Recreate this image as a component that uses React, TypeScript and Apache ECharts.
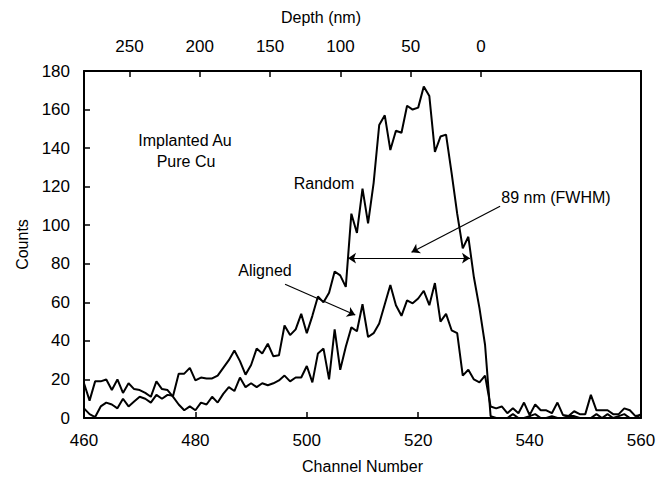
import React, { useEffect, useRef } from "react";
import * as echarts from "echarts";

const CHANNEL_START = 460;

// Counts per channel, 460 … 560
const randomCounts = [
  5, 2, 0.5, 6, 8, 7, 5, 10, 6, 8.5,
  11, 10, 8, 12, 10, 12, 11.5, 23, 23, 26,
  19.5, 21, 20.5, 20.5, 22, 26, 30, 35, 29.5, 22.5,
  27.5, 36, 33.5, 38.5, 32, 32.5, 48, 43, 46, 54,
  44, 53, 63, 60, 65, 76, 74, 68, 106, 96,
  119, 101, 122, 152, 157, 139, 149, 148, 162, 160,
  161, 172, 167, 138, 146, 147, 127, 106, 88, 94,
  73, 57, 38, 1, 0, 0, 0, 2, 0, 0,
  1, 2, 0, 0, 1, 0, 0, 1, 1, 0,
  0, 0, 2, 0, 2, 0, 1, 2, 0, 0,
  2,
];

const alignedCounts = [
  18, 9, 19, 19, 20, 14.5, 20, 13, 18, 15,
  14.5, 13, 11, 19, 15, 14.5, 11, 7, 4, 6,
  4, 8, 7, 11, 8, 12.5, 16, 14, 21, 16,
  18, 16, 18, 17, 18, 19.5, 22, 19, 21, 21,
  27, 18.5, 33.5, 36, 20, 46, 25, 37, 47, 45,
  59, 42, 44, 49, 59, 69, 58.5, 53, 61, 59.5,
  62, 66, 58.5, 70, 50, 54, 45.5, 44, 22, 25,
  20, 18.5, 22, 6, 5, 6, 2.5, 5, 2.5, 8,
  1.5, 7, 4, 4, 2.5, 8, 1.5, 1, 3.5, 2,
  2, 12, 4, 4, 4, 2, 2, 5, 4, 1,
  1.5,
];

const depthTicks = [0, 50, 100, 150, 200, 250];
const DEPTH_AT_LEFT = 282.3; // nm at channel 460
const DEPTH_AT_RIGHT = -113.7; // nm at channel 560

const FWHM_LEVEL = 82.9;
const FWHM_FROM = 507.4;
const FWHM_TO = 529.3;

const FONT = "'Liberation Sans', Arial, sans-serif";

export default function App() {
  const ref = useRef<HTMLDivElement>(null);

  useEffect(() => {
    if (!ref.current) return;
    const chart = echarts.init(ref.current, undefined, { renderer: "svg" });

    const toPairs = (arr: number[]) => arr.map((v, i) => [CHANNEL_START + i, v]);

    const axisLine = { show: true, onZero: false, lineStyle: { color: "#000", width: 2 } };
    const tickStyle = { color: "#000", width: 1.5 };

    chart.setOption({
      animation: false,
      backgroundColor: "#fff",
      grid: { left: 84, right: 26, top: 71, bottom: 62 },
      xAxis: [
        {
          type: "value",
          min: 460,
          max: 560,
          interval: 20,
          position: "bottom",
          axisLine,
          axisTick: { show: true, inside: true, length: 6, lineStyle: tickStyle },
          axisLabel: { fontSize: 17, color: "#000", fontFamily: FONT, margin: 14 },
          splitLine: { show: false },
          name: "Channel Number",
          nameLocation: "middle",
          nameGap: 40,
          nameTextStyle: { fontSize: 16, color: "#000", fontFamily: FONT },
        },
        {
          type: "value",
          min: DEPTH_AT_RIGHT,
          max: DEPTH_AT_LEFT,
          inverse: true,
          position: "top",
          axisLine,
          axisTick: {
            show: true,
            inside: true,
            length: 6,
            lineStyle: tickStyle,
            customValues: depthTicks,
          },
          axisLabel: {
            fontSize: 17,
            color: "#000",
            fontFamily: FONT,
            margin: 16,
            customValues: depthTicks,
          },
          splitLine: { show: false },
        },
      ],
      yAxis: [
        {
          type: "value",
          min: 0,
          max: 180,
          interval: 20,
          position: "left",
          axisLine,
          axisTick: { show: true, inside: true, length: 6, lineStyle: tickStyle },
          axisLabel: { fontSize: 17, color: "#000", fontFamily: FONT, margin: 14 },
          splitLine: { show: false },
          name: "Counts",
          nameLocation: "middle",
          nameGap: 51,
          nameRotate: 90,
          nameTextStyle: { fontSize: 16, color: "#000", fontFamily: FONT },
        },
        {
          type: "value",
          min: 0,
          max: 180,
          position: "right",
          axisLine,
          axisTick: { show: false },
          axisLabel: { show: false },
          splitLine: { show: false },
        },
      ],
      series: [
        {
          name: "Random",
          type: "line",
          xAxisIndex: 0,
          yAxisIndex: 0,
          data: toPairs(randomCounts),
          showSymbol: false,
          symbol: "none",
          lineStyle: { color: "#000", width: 2 },
          markLine: {
            silent: true,
            symbolSize: 8,
            label: { show: false },
            lineStyle: { color: "#000", width: 1.2, type: "solid" },
            data: [
              [
                { coord: [FWHM_FROM, FWHM_LEVEL], symbol: "arrow" },
                { coord: [FWHM_TO, FWHM_LEVEL], symbol: "arrow" },
              ],
              [
                { coord: [534.7, 109.8], symbol: "none" },
                { coord: [518.8, 86], symbol: "arrow" },
              ],
              [
                { coord: [496.1, 69.4], symbol: "none" },
                { coord: [508.7, 53.4], symbol: "arrow" },
              ],
            ],
          },
        },
        {
          name: "Aligned",
          type: "line",
          xAxisIndex: 0,
          yAxisIndex: 0,
          data: toPairs(alignedCounts),
          showSymbol: false,
          symbol: "none",
          lineStyle: { color: "#000", width: 2 },
        },
      ],
      graphic: [
        { type: "text", x: 321, y: 17, style: { text: "Depth (nm)", font: `16px ${FONT}`, fill: "#000", align: "center", verticalAlign: "middle" } },
        { type: "text", x: 185, y: 140, style: { text: "Implanted Au", font: `16px ${FONT}`, fill: "#000", align: "center", verticalAlign: "middle" } },
        { type: "text", x: 186, y: 161, style: { text: "Pure Cu", font: `16px ${FONT}`, fill: "#000", align: "center", verticalAlign: "middle" } },
        { type: "text", x: 324, y: 183, style: { text: "Random", font: `16px ${FONT}`, fill: "#000", align: "center", verticalAlign: "middle" } },
        { type: "text", x: 556, y: 197, style: { text: "89 nm (FWHM)", font: `16px ${FONT}`, fill: "#000", align: "center", verticalAlign: "middle" } },
        { type: "text", x: 265, y: 270, style: { text: "Aligned", font: `16px ${FONT}`, fill: "#000", align: "center", verticalAlign: "middle" } },
      ],
    });

    return () => chart.dispose();
  }, []);

  return (
    <div
      ref={ref}
      style={{ position: "fixed", left: 0, top: 0, width: 667, height: 480, background: "#fff" }}
    />
  );
}
